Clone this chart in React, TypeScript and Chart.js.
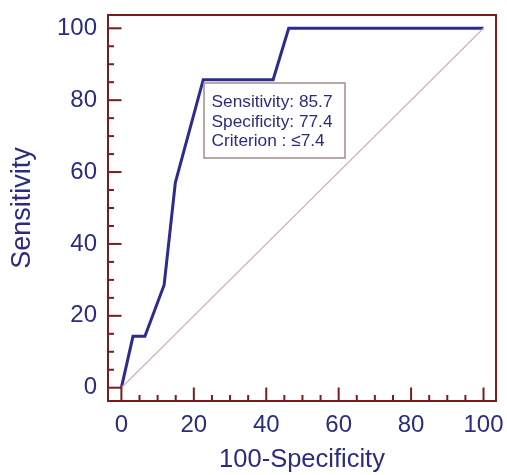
import React, { useEffect, useRef } from "react";
import { Chart, registerables } from "chart.js";

Chart.register(...registerables);

// ROC curve values (100-Specificity vs Sensitivity)
const falsePositive = [0, 3.2, 6.5, 11.8, 14.9, 22.6, 41.9, 46.2, 100];
const sensitivity = [0, 14.3, 14.3, 28.6, 57.1, 85.7, 85.7, 100, 100];
const diagonalX = [0, 100];
const diagonalY = [0, 100];
const majorTicks = [0, 20, 40, 60, 80, 100];
const minorTicks = [5, 10, 15, 25, 30, 35, 45, 50, 55, 65, 70, 75, 85, 90, 95];
const criterionPoint = { x: 22.6, y: 85.7 };
const annotationLines = ["Sensitivity: 85.7", "Specificity: 77.4", "Criterion : \u22647.4"];
const xTitle = "100-Specificity";
const yTitle = "Sensitivity";

const NAVY = "#2b2c7e";
const CURVE = "#2c2c8c";
const FRAME = "#7a1c1c";
const DIAG = "#cdb4b6";
const FONT = "'Liberation Sans', Arial, Helvetica, sans-serif";

const framePlugin = {
  id: "frameTicks",
  afterDatasetsDraw(chart: any) {
    const { ctx, chartArea, scales } = chart;
    const xs = scales.x;
    const ys = scales.y;
    ctx.save();
    ctx.strokeStyle = FRAME;
    ctx.lineWidth = 2;
    ctx.strokeRect(chartArea.left, chartArea.top, chartArea.right - chartArea.left, chartArea.bottom - chartArea.top);
    const drawTick = (v: number, len: number) => {
      const px = xs.getPixelForValue(v);
      ctx.beginPath();
      ctx.moveTo(px, chartArea.bottom);
      ctx.lineTo(px, chartArea.bottom - len);
      ctx.stroke();
      const py = ys.getPixelForValue(v);
      ctx.beginPath();
      ctx.moveTo(chartArea.left, py);
      ctx.lineTo(chartArea.left + len, py);
      ctx.stroke();
    };
    majorTicks.forEach((v) => drawTick(v, 13.5));
    minorTicks.forEach((v) => drawTick(v, 6));

    // annotation box
    const bx = Math.round(xs.getPixelForValue(criterionPoint.x)) + 1;
    const by = Math.round(ys.getPixelForValue(criterionPoint.y)) + 3;
    const bw = 141;
    const bh = 75;
    ctx.fillStyle = "#ffffff";
    ctx.fillRect(bx, by, bw, bh);
    ctx.strokeStyle = "#a48c8c";
    ctx.lineWidth = 1.5;
    ctx.strokeRect(bx, by, bw, bh);
    ctx.fillStyle = NAVY;
    ctx.font = `17.3px ${FONT}`;
    ctx.textBaseline = "alphabetic";
    ctx.textAlign = "left";
    annotationLines.forEach((t, i) => {
      ctx.fillText(t, bx + 7.5, by + 24 + i * 19.5);
    });
    ctx.restore();
  },
};

export default function App() {
  const ref = useRef<HTMLCanvasElement>(null);
  useEffect(() => {
    const canvas = ref.current;
    if (!canvas) return;
    const chart = new Chart(canvas, {
      type: "line",
      data: {
        datasets: [
          {
            data: diagonalX.map((x, i) => ({ x, y: diagonalY[i] })),
            borderColor: DIAG,
            borderWidth: 1.2,
            pointRadius: 0,
            fill: false,
          },
          {
            data: falsePositive.map((x, i) => ({ x, y: sensitivity[i] })),
            borderColor: CURVE,
            borderWidth: 3,
            pointRadius: 0,
            fill: false,
            tension: 0,
          },
        ],
      },
      options: {
        responsive: false,
        animation: false,
        layout: { padding: { top: 15, right: 11, left: 0, bottom: 0 } },
        plugins: { legend: { display: false }, tooltip: { enabled: false } },
        scales: {
          x: {
            type: "linear",
            min: -3.7,
            max: 103.45,
            grid: { display: false, drawTicks: false },
            border: { display: false },
            afterBuildTicks: (s: any) => {
              s.ticks = majorTicks.map((v) => ({ value: v }));
            },
            afterFit: (s: any) => {
              s.height = 74;
              s.paddingLeft = 0;
              s.paddingRight = 0;
            },
            ticks: {
              padding: 10,
              color: NAVY,
              font: { family: FONT, size: 24 },
              maxRotation: 0,
              autoSkip: false,
            },
            title: {
              display: true,
              text: xTitle,
              color: NAVY,
              font: { family: FONT, size: 25.5 },
              padding: { top: 0, bottom: 0 },
            },
          },
          y: {
            type: "linear",
            min: -3.7,
            max: 103.7,
            grid: { display: false, drawTicks: false },
            border: { display: false },
            afterBuildTicks: (s: any) => {
              s.ticks = majorTicks.map((v) => ({ value: v }));
            },
            afterFit: (s: any) => {
              s.width = 108;
              s.paddingTop = 0;
              s.paddingBottom = 0;
            },
            ticks: {
              padding: 11,
              color: NAVY,
              font: { family: FONT, size: 24 },
              autoSkip: false,
            },
            title: {
              display: true,
              text: yTitle,
              color: NAVY,
              font: { family: FONT, size: 27 },
              padding: { top: 6, bottom: 0 },
            },
          },
        },
      },
      plugins: [framePlugin],
    } as any);
    return () => chart.destroy();
  }, []);
  return (
    <div style={{ position: "absolute", left: 0, top: 0, width: 507, height: 475, background: "#fff" }}>
      <canvas ref={ref} width={507} height={475} style={{ display: "block" }} />
    </div>
  );
}
